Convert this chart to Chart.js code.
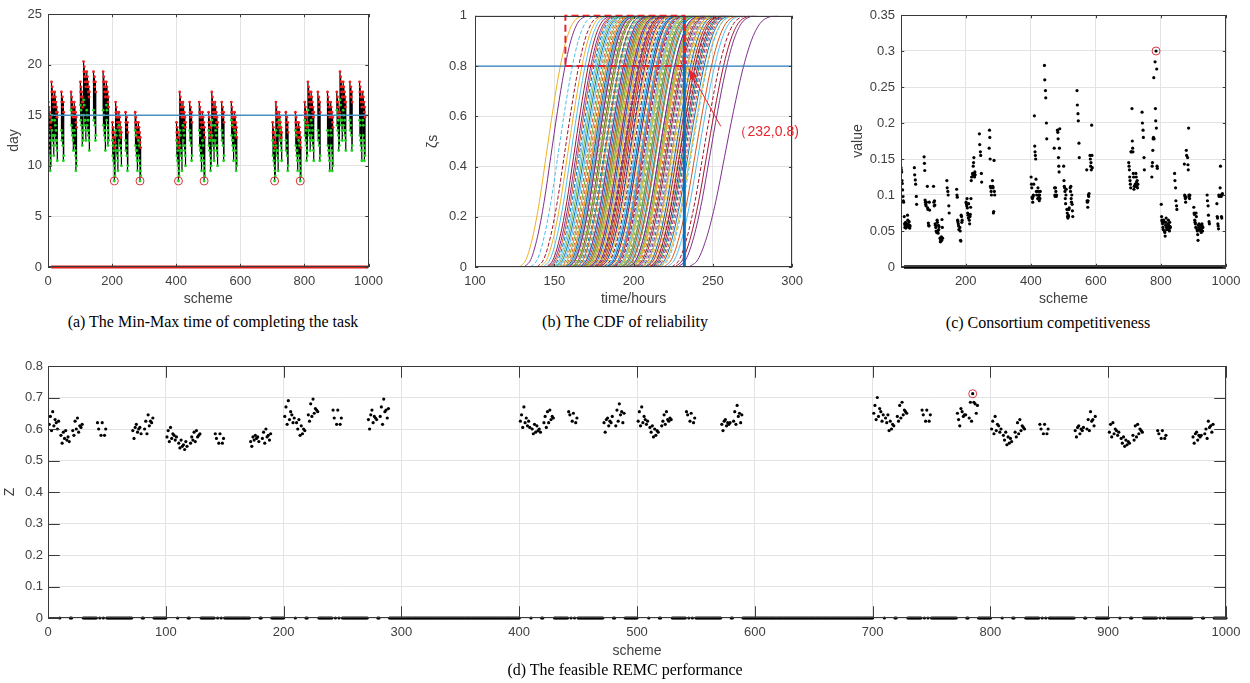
<!DOCTYPE html>
<html lang="en">
<head>
<meta charset="UTF-8" />
<title>REMC scheme evaluation</title>
<script src="https://cdn.jsdelivr.net/npm/chart.js"></script>
<style>
  body { margin: 0; width: 1250px; height: 683px; background: #fff; position: relative; overflow: hidden; }
  canvas { position: absolute; }
  .legenda { position: absolute; width: 400px; text-align: center; font: 16px "Liberation Serif", "Times New Roman", serif; line-height: 18px; color: #000; white-space: nowrap; }
</style>
</head>
<body>
  <canvas id="graficoA" width="390" height="310" style="left:0;top:0"></canvas>
  <canvas id="graficoB" width="400" height="310" style="left:410px;top:0"></canvas>
  <canvas id="graficoC" width="410" height="310" style="left:840px;top:0"></canvas>
  <canvas id="graficoD" width="1250" height="311" style="left:0;top:352px"></canvas>

  <div class="legenda" style="left:13px;top:313px">(a) The Min-Max time of completing the task</div>
  <div class="legenda" style="left:425px;top:313px">(b) The CDF of reliability</div>
  <div class="legenda" style="left:848px;top:314px">(c) Consortium competitiveness</div>
  <div class="legenda" style="left:425px;top:661px">(d) The feasible REMC performance</div>

<script>
  // feasible schemes: every block of 100 uses the same offsets (A 9, B 8, C 9, D 6, E 8, F 8)
  const blockStarts = [0, 100, 200, 400, 500, 700, 800, 900];
  const blockOffsets = [1, 2, 3, 4, 5, 6, 7, 8, 9,
    11, 12, 13, 14, 15, 16, 17, 18,
    21, 22, 23, 24, 25, 26, 27, 28, 29,
    42, 43, 45, 46, 48, 49,
    72, 73, 74, 75, 76, 77, 78, 79,
    82, 83, 84, 85, 86, 87, 88, 89];

  // (a) min / max completion time (days)
  const minDays = [
    13.5,12,13,11.5,12.5,11,9.5,10.5,10, 15,13.5,14.5,13,12.5,13,12,11, 14.5,13,14,12.5,13.5,12,12.5,11.5,10.5, 13.5,12.5,13,12,10.5,11, 15.5,14,15,13.5,13,13.5,12.5,11.5, 13.5,12,13,11.5,11,9.5,10.5,10,
    16,14.5,15.5,14,15,13.5,12,13,12.5, 16.5,15,16,14.5,14,14.5,13.5,12.5, 15.5,14,15,13.5,14.5,13,13.5,12.5,11.5, 15.5,14.5,15,14,12.5,13, 15.5,14,15,13.5,13,13.5,12.5,11.5, 16,14.5,15.5,14,13.5,12,13,12.5,
    12.5,11,12,10.5,11.5,10,8.5,9.5,9, 13.5,12,13,11.5,11,11.5,10.5,9.5, 14,12.5,13.5,12,13,11.5,12,11,10, 12.5,11.5,12,11,9.5,10, 13.5,12,13,11.5,11,11.5,10.5,9.5, 12.5,11,12,10.5,10,8.5,9.5,9,
    12.5,11,12,10.5,11.5,10,8.5,9.5,9, 13.5,12,13,11.5,11,11.5,10.5,9.5, 14,12.5,13.5,12,13,11.5,12,11,10, 13.5,12.5,13,12,10.5,11, 13.5,12,13,11.5,11,11.5,10.5,9.5, 12.5,11,12,10.5,10,8.5,9.5,9,
    13.5,12,13,11.5,12.5,11,9.5,10.5,10, 14.5,13,14,12.5,12,12.5,11.5,10.5, 14,12.5,13.5,12,13,11.5,12,11,10, 13.5,12.5,13,12,10.5,11, 14.5,13,14,12.5,12,12.5,11.5,10.5, 13.5,12,13,11.5,11,9.5,10.5,10,
    12.5,11,12,10.5,11.5,10,8.5,9.5,9, 13.5,12,13,11.5,11,11.5,10.5,9.5, 14.5,13,14,12.5,13.5,12,12.5,11.5,10.5, 12.5,11.5,12,11,9.5,10, 13.5,12,13,11.5,11,11.5,10.5,9.5, 12.5,11,12,10.5,10,8.5,9.5,9,
    14.5,13,14,12.5,13.5,12,10.5,11.5,11, 15.5,14,15,13.5,13,13.5,12.5,11.5, 14.5,13,14,12.5,13.5,12,12.5,11.5,10.5, 13.5,12.5,13,12,10.5,11, 13.5,12,13,11.5,11,11.5,10.5,9.5, 13.5,12,13,11.5,11,9.5,10.5,10,
    15.5,14,15,13.5,14.5,13,11.5,12.5,12, 16.5,15,16,14.5,14,14.5,13.5,12.5, 15.5,14,15,13.5,14.5,13,13.5,12.5,11.5, 14.5,13.5,14,13,11.5,12, 14.5,13,14,12.5,12,12.5,11.5,10.5, 14.5,13,14,12.5,12,10.5,11.5,11
  ];
  const maxDays = [
    16.3,15.3,15.8,14.8,15.3,14.3,14.8,13.8,14.3, 18.3,17.3,17.8,16.8,17.3,16.3,16.8,15.8, 17.3,16.3,16.8,15.8,16.3,15.3,15.8,14.8,15.3, 17.3,16.3,16.8,15.8,16.3,15.3, 17.3,16.3,16.8,15.8,16.3,15.3,15.8,14.8, 16.3,15.3,15.8,14.8,15.3,14.3,14.8,13.8,
    18.3,17.3,17.8,16.8,17.3,16.3,16.8,15.8,16.3, 20.3,19.3,19.8,18.8,19.3,18.3,18.8,17.8, 19.3,18.3,18.8,17.8,18.3,17.3,17.8,16.8,17.3, 19.3,18.3,18.8,17.8,18.3,17.3, 19.3,18.3,18.8,17.8,18.3,17.3,17.8,16.8, 18.3,17.3,17.8,16.8,17.3,16.3,16.8,15.8,
    14.3,13.3,13.8,12.8,13.3,12.3,12.8,11.8,12.3, 16.3,15.3,15.8,14.8,15.3,14.3,14.8,13.8, 15.3,14.3,14.8,13.8,14.3,13.3,13.8,12.8,13.3, 15.3,14.3,14.8,13.8,14.3,13.3, 15.3,14.3,14.8,13.8,14.3,13.3,13.8,12.8, 14.3,13.3,13.8,12.8,13.3,12.3,12.8,11.8,
    14.3,13.3,13.8,12.8,13.3,12.3,12.8,11.8,12.3, 17.3,16.3,16.8,15.8,16.3,15.3,15.8,14.8, 16.3,15.3,15.8,14.8,15.3,14.3,14.8,13.8,14.3, 16.3,15.3,15.8,14.8,15.3,14.3, 16.3,15.3,15.8,14.8,15.3,14.3,14.8,13.8, 15.3,14.3,14.8,13.8,14.3,13.3,13.8,12.8,
    15.3,14.3,14.8,13.8,14.3,13.3,13.8,12.8,13.3, 17.3,16.3,16.8,15.8,16.3,15.3,15.8,14.8, 16.3,15.3,15.8,14.8,15.3,14.3,14.8,13.8,14.3, 16.3,15.3,15.8,14.8,15.3,14.3, 16.3,15.3,15.8,14.8,15.3,14.3,14.8,13.8, 15.3,14.3,14.8,13.8,14.3,13.3,13.8,12.8,
    14.3,13.3,13.8,12.8,13.3,12.3,12.8,11.8,12.3, 16.3,15.3,15.8,14.8,15.3,14.3,14.8,13.8, 15.3,14.3,14.8,13.8,14.3,13.3,13.8,12.8,13.3, 15.3,14.3,14.8,13.8,14.3,13.3, 15.3,14.3,14.8,13.8,14.3,13.3,13.8,12.8, 14.3,13.3,13.8,12.8,13.3,12.3,12.8,11.8,
    16.3,15.3,15.8,14.8,15.3,14.3,14.8,13.8,14.3, 18.3,17.3,17.8,16.8,17.3,16.3,16.8,15.8, 17.3,16.3,16.8,15.8,16.3,15.3,15.8,14.8,15.3, 17.3,16.3,16.8,15.8,16.3,15.3, 17.3,16.3,16.8,15.8,16.3,15.3,15.8,14.8, 16.3,15.3,15.8,14.8,15.3,14.3,14.8,13.8,
    17.3,16.3,16.8,15.8,16.3,15.3,15.8,14.8,15.3, 19.3,18.3,18.8,17.8,18.3,17.3,17.8,16.8, 18.3,17.3,17.8,16.8,17.3,16.3,16.8,15.8,16.3, 18.3,17.3,17.8,16.8,17.3,16.3, 18.3,17.3,17.8,16.8,17.3,16.3,16.8,15.8, 17.3,16.3,16.8,15.8,16.3,15.3,15.8,14.8
  ];
  const deadlineDays = 15;

  // (c) consortium competitiveness
  const competitiveness = [
    0.138,0.135,0.132,0.12,0.116,0.107,0.098,0.092,0.09, 0.07,0.06,0.055,0.058,0.062,0.054,0.056,0.06, 0.072,0.065,0.06,0.057,0.055,0.063,0.058,0.054,0.057, 0.138,0.128,0.121,0.115,0.098,0.087, 0.153,0.144,0.134,0.093,0.09,0.087,0.085,0.09, 0.112,0.082,0.08,0.061,0.058,0.057,0.09,0.079,
    0.112,0.09,0.085,0.092,0.086,0.06,0.058,0.055,0.05, 0.048,0.065,0.062,0.05,0.047,0.058,0.052,0.056, 0.04,0.035,0.038,0.036,0.042,0.037,0.066,0.055,0.04, 0.12,0.11,0.105,0.1,0.085,0.075, 0.108,0.1,0.097,0.065,0.063,0.06,0.057,0.052, 0.055,0.05,0.037,0.036,0.072,0.07,0.062,0.065,
    0.09,0.088,0.085,0.095,0.082,0.075,0.072,0.068,0.088, 0.065,0.06,0.07,0.073,0.083,0.095,0.12,0.125, 0.13,0.128,0.14,0.145,0.152,0.13,0.125,0.132,0.128, 0.185,0.17,0.16,0.155,0.13,0.118, 0.165,0.19,0.18,0.15,0.112,0.11,0.105,0.1, 0.12,0.112,0.11,0.075,0.077,0.148,0.105,0.1,
    0.125,0.115,0.11,0.097,0.095,0.09,0.098,0.1,0.115, 0.21,0.168,0.16,0.155,0.15,0.122,0.105,0.1, 0.095,0.11,0.105,0.1,0.097,0.092,0.1,0.095,0.105, 0.28,0.26,0.245,0.235,0.2,0.178, 0.165,0.11,0.1,0.098,0.11,0.105,0.098,0.1, 0.19,0.187,0.178,0.152,0.14,0.132,0.165,0.192,
    0.14,0.12,0.112,0.11,0.105,0.095,0.088,0.1,0.108, 0.08,0.075,0.07,0.068,0.072,0.07,0.08,0.082, 0.11,0.105,0.112,0.095,0.09,0.1,0.087,0.078,0.07, 0.245,0.225,0.213,0.203,0.172,0.152, 0.135,0.092,0.09,0.083,0.092,0.1,0.098,0.102, 0.155,0.15,0.14,0.145,0.135,0.197,0.155,0.138,
    0.145,0.14,0.135,0.125,0.12,0.115,0.11,0.16,0.16, 0.22,0.175,0.165,0.16,0.13,0.125,0.108,0.112, 0.115,0.112,0.13,0.125,0.118,0.113,0.12,0.11,0.115, 0.215,0.2,0.19,0.18,0.152,0.135, 0.125,0.14,0.145,0.162,0.178,0.18,0.263,0.178, 0.285,0.22,0.203,0.30,0.193,0.275,0.14,0.137,
    0.087,0.07,0.065,0.063,0.06,0.055,0.052,0.065,0.062, 0.05,0.048,0.043,0.058,0.062,0.068,0.055,0.052, 0.06,0.055,0.065,0.058,0.052,0.05,0.062,0.056,0.055, 0.13,0.12,0.11,0.092,0.085,0.08, 0.143,0.1,0.098,0.095,0.09,0.097,0.162,0.155, 0.152,0.142,0.135,0.193,0.1,0.098,0.095,0.1,
    0.083,0.075,0.073,0.065,0.062,0.06,0.055,0.075,0.07, 0.052,0.05,0.045,0.037,0.058,0.055,0.06,0.052, 0.058,0.05,0.055,0.048,0.053,0.06,0.057,0.05,0.055, 0.1,0.092,0.085,0.072,0.063,0.06, 0.088,0.07,0.068,0.06,0.057,0.053,0.1,0.098, 0.11,0.14,0.1,0.098,0.07,0.068,0.1,0.102
  ];

  // (d) overall performance Z
  const zValues = [
    0.615,0.64,0.595,0.655,0.61,0.63,0.62,0.60,0.625, 0.58,0.555,0.59,0.57,0.595,0.565,0.575,0.56, 0.595,0.58,0.625,0.60,0.635,0.59,0.61,0.605,0.615, 0.62,0.60,0.58,0.62,0.58,0.60, 0.595,0.57,0.605,0.615,0.59,0.60,0.605,0.585, 0.60,0.625,0.585,0.645,0.61,0.625,0.62,0.635,
    0.575,0.595,0.56,0.605,0.57,0.585,0.58,0.565,0.575, 0.555,0.54,0.565,0.545,0.55,0.535,0.56,0.545, 0.555,0.575,0.565,0.59,0.56,0.595,0.575,0.58,0.585, 0.585,0.57,0.555,0.585,0.555,0.57, 0.56,0.545,0.575,0.565,0.58,0.57,0.575,0.56, 0.57,0.59,0.555,0.60,0.575,0.58,0.565,0.585,
    0.64,0.67,0.615,0.69,0.63,0.655,0.645,0.62,0.635, 0.62,0.60,0.63,0.58,0.61,0.585,0.60,0.595, 0.645,0.625,0.68,0.64,0.695,0.65,0.665,0.66,0.655, 0.66,0.635,0.615,0.66,0.615,0.635, 0.63,0.60,0.645,0.66,0.62,0.64,0.635,0.63, 0.64,0.67,0.615,0.695,0.655,0.66,0.635,0.665,
    0.625,0.645,0.605,0.67,0.62,0.635,0.61,0.625,0.605, 0.60,0.585,0.615,0.59,0.61,0.595,0.60,0.59, 0.62,0.64,0.605,0.655,0.62,0.66,0.63,0.64,0.635, 0.655,0.645,0.625,0.65,0.62,0.635, 0.62,0.59,0.63,0.635,0.61,0.625,0.62,0.64, 0.61,0.66,0.625,0.68,0.645,0.655,0.62,0.65,
    0.625,0.655,0.61,0.67,0.62,0.64,0.63,0.615,0.625, 0.605,0.59,0.61,0.575,0.60,0.58,0.595,0.59, 0.61,0.625,0.645,0.615,0.655,0.63,0.625,0.635,0.63, 0.655,0.645,0.625,0.65,0.62,0.635, 0.615,0.595,0.625,0.63,0.61,0.62,0.615,0.62, 0.625,0.655,0.615,0.675,0.64,0.65,0.62,0.645,
    0.65,0.675,0.63,0.70,0.64,0.665,0.655,0.625,0.645, 0.635,0.62,0.645,0.595,0.625,0.60,0.615,0.61, 0.64,0.625,0.675,0.635,0.685,0.645,0.66,0.655,0.65, 0.66,0.645,0.625,0.66,0.625,0.645, 0.65,0.63,0.61,0.665,0.655,0.64,0.645,0.645, 0.635,0.685,0.625,0.712,0.685,0.68,0.65,0.675,
    0.60,0.625,0.585,0.64,0.595,0.615,0.61,0.59,0.60, 0.58,0.565,0.59,0.55,0.575,0.555,0.57,0.56, 0.59,0.575,0.62,0.585,0.63,0.595,0.61,0.605,0.60, 0.615,0.60,0.585,0.615,0.585,0.60, 0.595,0.575,0.605,0.61,0.585,0.60,0.595,0.605, 0.60,0.63,0.595,0.655,0.625,0.63,0.61,0.64,
    0.59,0.615,0.575,0.62,0.585,0.60,0.595,0.58,0.59, 0.57,0.555,0.575,0.545,0.565,0.55,0.56,0.555, 0.58,0.565,0.61,0.575,0.615,0.585,0.60,0.595,0.59, 0.595,0.585,0.57,0.595,0.57,0.58, 0.575,0.555,0.585,0.59,0.565,0.58,0.575,0.58, 0.585,0.60,0.57,0.625,0.605,0.61,0.59,0.615
  ];

  // (b) reliability CDFs: start hour and rise length of each curve, plus the common S shape
  const curveStart = [128, 175, 196, 152, 210, 163, 187, 141, 201, 170,
    158, 224, 183, 147, 206, 166, 192, 135, 178, 215,
    155, 199, 172, 161, 189, 145, 212, 168, 180, 204,
    150, 194, 176, 157, 219, 185, 131, 198, 165, 208,
    173, 153, 190, 228, 160, 182, 202, 148, 195, 171,
    213, 162, 186, 139, 207, 177, 156, 197, 169, 217,
    184, 151, 200, 174, 159, 191, 143, 211, 179, 164,
    205, 188, 154, 221, 181, 167, 193, 209, 146, 176,
    203, 161, 186, 214, 170, 197, 157, 190, 226, 183,
    166, 199, 175, 212, 149, 188, 205, 172, 194, 235,
    168, 181, 159, 192, 203, 174, 186, 165, 198, 179,
    210, 156, 189, 171, 201, 184, 162, 195, 177, 207,
    169, 190, 182, 158, 199, 173, 216, 187, 164, 193];
  const curveSpan = [42, 46, 45, 44, 47, 45, 46, 43, 47, 45,
    44, 49, 46, 44, 47, 45, 46, 43, 45, 48,
    44, 46, 45, 44, 46, 43, 48, 45, 46, 47,
    44, 46, 45, 44, 49, 46, 42, 47, 45, 48,
    45, 44, 46, 50, 44, 46, 47, 44, 46, 45,
    48, 44, 46, 43, 47, 45, 44, 47, 45, 48,
    46, 44, 47, 45, 44, 46, 43, 48, 45, 44,
    47, 46, 44, 49, 46, 45, 46, 48, 44, 45,
    47, 44, 46, 48, 45, 47, 44, 46, 50, 46,
    45, 47, 45, 48, 44, 46, 47, 45, 46, 56,
    45, 46, 44, 46, 47, 45, 46, 45, 47, 46,
    48, 44, 46, 45, 47, 46, 44, 47, 45, 48,
    45, 46, 46, 44, 47, 45, 49, 46, 45, 46];
  const cdfFraction = [0, 0.1, 0.2, 0.3, 0.4, 0.5, 0.6, 0.7, 0.8, 0.9, 1];
  const cdfShape = [0, 0.03, 0.12, 0.26, 0.44, 0.62, 0.78, 0.90, 0.97, 0.995, 1];
  const reliabilityLevel = 0.8;
  const chosenHours = 232;
  const boxStartHours = 157;
  const noteText = '（232,0.8)';
  const noteArrowFrom = [255, 0.56];
  const noteArrowTo = [234.5, 0.79];
  const noteAt = [263, 0.535];

  // tick labels
  const schemeTicksA = [0, 200, 400, 600, 800, 1000];
  const dayTicks = [0, 5, 10, 15, 20, 25];
  const hourTicks = [100, 150, 200, 250, 300];
  const zetaTicks = [0, 0.2, 0.4, 0.6, 0.8, 1];
  const schemeTicksC = [200, 400, 600, 800, 1000];
  const valueTicks = [0, 0.05, 0.1, 0.15, 0.2, 0.25, 0.3, 0.35];
  const schemeTicksD = [0, 100, 200, 300, 400, 500, 600, 700, 800, 900, 1000];
  const zTicks = [0, 0.1, 0.2, 0.3, 0.4, 0.5, 0.6, 0.7, 0.8];

  const matlabCores = ['#EDB120', '#7E2F8E', '#77AC30', '#4DBEEE', '#A2142F', '#0072BD', '#D95319'];
  const SANS = '"Liberation Sans", Arial, sans-serif';

  const feasibleSchemes = blockStarts.flatMap(b => blockOffsets.map(o => b + o));
  const feasibleSet = new Set(feasibleSchemes);
  const infeasibleSchemes = [];
  for (let s = 1; s <= 1000; s++) {
    if (!feasibleSet.has(s)) infeasibleSchemes.push(s);
  }
  if (minDays.length !== feasibleSchemes.length || maxDays.length !== feasibleSchemes.length ||
      competitiveness.length !== feasibleSchemes.length || zValues.length !== feasibleSchemes.length) {
    console.error('tamanhos diferentes', feasibleSchemes.length, minDays.length, maxDays.length, competitiveness.length, zValues.length);
  }

  // MATLAB-like box with inward ticks on all four sides
  const boxTicks = {
    id: 'boxTicks',
    afterDatasetsDraw(chart) {
      const { ctx, chartArea: a, scales } = chart;
      const len = 0.01 * Math.max(a.width, a.height);
      ctx.save();
      ctx.strokeStyle = '#3a3a3a';
      ctx.lineWidth = 1;
      ctx.beginPath();
      scales.x.ticks.forEach(t => {
        const p = Math.round(scales.x.getPixelForValue(t.value)) + 0.5;
        ctx.moveTo(p, a.bottom); ctx.lineTo(p, a.bottom - len);
        ctx.moveTo(p, a.top); ctx.lineTo(p, a.top + len);
      });
      scales.y.ticks.forEach(t => {
        const p = Math.round(scales.y.getPixelForValue(t.value)) + 0.5;
        ctx.moveTo(a.left, p); ctx.lineTo(a.left + len, p);
        ctx.moveTo(a.right, p); ctx.lineTo(a.right - len, p);
      });
      ctx.stroke();
      ctx.strokeRect(Math.round(a.left) + 0.5, Math.round(a.top) + 0.5, Math.round(a.width) - 1, Math.round(a.height) - 1);
      ctx.restore();
    }
  };

  // arrow and label for the chosen point in (b)
  const notaPlugin = {
    id: 'nota',
    afterDatasetsDraw(chart) {
      const { ctx, scales: { x, y } } = chart;
      const x0 = x.getPixelForValue(noteArrowFrom[0]), y0 = y.getPixelForValue(noteArrowFrom[1]);
      const x1 = x.getPixelForValue(noteArrowTo[0]), y1 = y.getPixelForValue(noteArrowTo[1]);
      const ang = Math.atan2(y1 - y0, x1 - x0);
      ctx.save();
      ctx.strokeStyle = '#e8232b';
      ctx.fillStyle = '#e8232b';
      ctx.lineWidth = 1;
      ctx.beginPath();
      ctx.moveTo(x0, y0);
      ctx.lineTo(x1 - 8 * Math.cos(ang), y1 - 8 * Math.sin(ang));
      ctx.stroke();
      ctx.beginPath();
      ctx.moveTo(x1, y1);
      ctx.lineTo(x1 - 11 * Math.cos(ang) + 4 * Math.sin(ang), y1 - 11 * Math.sin(ang) - 4 * Math.cos(ang));
      ctx.lineTo(x1 - 11 * Math.cos(ang) - 4 * Math.sin(ang), y1 - 11 * Math.sin(ang) + 4 * Math.cos(ang));
      ctx.closePath();
      ctx.fill();
      ctx.font = '14px ' + SANS;
      ctx.textAlign = 'left';
      ctx.textBaseline = 'middle';
      ctx.fillText(noteText, x.getPixelForValue(noteAt[0]), y.getPixelForValue(noteAt[1]));
      ctx.restore();
    }
  };

  function eixo(cfg) {
    return {
      type: 'linear',
      min: cfg.min,
      max: cfg.max,
      afterBuildTicks: scale => { scale.ticks = cfg.ticks.map(v => ({ value: v })); },
      afterFit: scale => {
        if (scale.isHorizontal()) scale.height = cfg.size;
        else scale.width = cfg.size;
      },
      ticks: {
        color: '#404040',
        font: { family: SANS, size: 13 },
        padding: cfg.tickPad,
        maxRotation: 0,
        autoSkip: false,
        callback: v => String(+(+v).toFixed(3))
      },
      grid: { color: '#e3e3e3', drawTicks: false },
      border: { display: false },
      title: {
        display: true,
        text: cfg.title,
        color: '#404040',
        font: { family: SANS, size: 14 },
        padding: cfg.horizontal ? { top: 0, bottom: cfg.titlePad } : { top: cfg.titlePad, bottom: 0 }
      }
    };
  }

  function opcoes(padTop, padRight, x, y) {
    return {
      responsive: false,
      animation: false,
      events: [],
      layout: { autoPadding: false, padding: { top: padTop, right: padRight, left: 0, bottom: 0 } },
      plugins: { legend: { display: false }, tooltip: { enabled: false } },
      scales: { x: x, y: y }
    };
  }

  // ---------- (a)
  const barPoints = [];
  feasibleSchemes.forEach((s, i) => {
    barPoints.push({ x: s, y: minDays[i] }, { x: s, y: maxDays[i] }, { x: s, y: null });
  });
  const lowestDay = Math.min(...minDays);
  const circledA = feasibleSchemes.filter((s, i) => minDays[i] === lowestDay)
    .map(s => ({ x: s, y: lowestDay }));

  new Chart(document.getElementById('graficoA'), {
    type: 'scatter',
    data: {
      datasets: [
        { data: infeasibleSchemes.map(s => ({ x: s, y: 0 })), showLine: true, borderColor: '#e01b1b', borderWidth: 3, pointRadius: 0, clip: 4, order: 6 },
        { data: barPoints, showLine: true, spanGaps: false, borderColor: '#000', borderWidth: 1.2, pointRadius: 0, order: 5 },
        { data: feasibleSchemes.map((s, i) => ({ x: s, y: minDays[i] })), pointRadius: 1.4, pointBorderWidth: 0, backgroundColor: '#1fd21f', order: 4 },
        { data: feasibleSchemes.map((s, i) => ({ x: s, y: maxDays[i] })), pointRadius: 1.4, pointBorderWidth: 0, backgroundColor: '#ee1c1c', order: 3 },
        { data: [{ x: 0, y: deadlineDays }, { x: 1000, y: deadlineDays }], showLine: true, borderColor: '#4a8fc4', borderWidth: 1.5, pointRadius: 0, order: 2 },
        { data: circledA, pointRadius: 4, pointBorderWidth: 1, borderColor: '#d9343a', backgroundColor: 'rgba(0,0,0,0)', order: 1 }
      ]
    },
    options: opcoes(14, 18,
      eixo({ min: 0, max: 1000, ticks: schemeTicksA, size: 43, title: 'scheme', tickPad: 7, titlePad: 2, horizontal: true }),
      eixo({ min: 0, max: 25, ticks: dayTicks, size: 48, title: 'day', tickPad: 6, titlePad: 6 })),
    plugins: [boxTicks]
  });

  // ---------- (b)
  const curveSets = curveStart.map((s, i) => ({
    data: cdfFraction.map((f, k) => ({ x: s + f * curveSpan[i], y: cdfShape[k] })),
    showLine: true,
    cubicInterpolationMode: 'monotone',
    borderColor: matlabCores[i % matlabCores.length],
    borderWidth: 1,
    borderDash: i % 3 === 2 ? [4, 2] : [],
    pointRadius: 0,
    order: 10
  }));

  new Chart(document.getElementById('graficoB'), {
    type: 'scatter',
    data: {
      datasets: curveSets.concat([
        { data: [{ x: 100, y: reliabilityLevel }, { x: 300, y: reliabilityLevel }], showLine: true, borderColor: '#2d7dbf', borderWidth: 1.2, pointRadius: 0, order: 4 },
        { data: [{ x: chosenHours, y: 0 }, { x: chosenHours, y: 1 }], showLine: true, borderColor: '#0b6fc0', borderWidth: 3, pointRadius: 0, order: 3 },
        { data: [{ x: boxStartHours, y: reliabilityLevel }, { x: chosenHours, y: reliabilityLevel }, { x: chosenHours, y: 1 }, { x: boxStartHours, y: 1 }, { x: boxStartHours, y: reliabilityLevel }],
          showLine: true, borderColor: '#e3222c', borderWidth: 2, borderDash: [7, 4], pointRadius: 0, clip: 3, order: 1 }
      ])
    },
    options: opcoes(14, 13,
      eixo({ min: 100, max: 300, ticks: hourTicks, size: 43, title: 'time/hours', tickPad: 7, titlePad: 2, horizontal: true }),
      eixo({ min: 0, max: 1, ticks: zetaTicks, size: 65, title: 'ζs', tickPad: 8, titlePad: 15 })),
    plugins: [boxTicks, notaPlugin]
  });

  // ---------- (c)
  const bestComp = Math.max(...competitiveness);
  const circledC = feasibleSchemes.filter((s, i) => competitiveness[i] === bestComp)
    .map(s => ({ x: s, y: bestComp }));

  new Chart(document.getElementById('graficoC'), {
    type: 'scatter',
    data: {
      datasets: [
        { data: infeasibleSchemes.map(s => ({ x: s, y: 0 })), showLine: true, borderColor: '#000', borderWidth: 3.5, pointRadius: 0, clip: 4, order: 3 },
        { data: feasibleSchemes.map((s, i) => ({ x: s, y: competitiveness[i] })), pointRadius: 1.6, pointBorderWidth: 0, backgroundColor: '#000', order: 2 },
        { data: circledC, pointRadius: 4, pointBorderWidth: 1, borderColor: '#d9343a', backgroundColor: 'rgba(0,0,0,0)', order: 1 }
      ]
    },
    options: opcoes(15, 24,
      eixo({ min: 1, max: 1000, ticks: schemeTicksC, size: 43, title: 'scheme', tickPad: 7, titlePad: 2, horizontal: true }),
      eixo({ min: 0, max: 0.35, ticks: valueTicks, size: 61, title: 'value', tickPad: 6, titlePad: 10 })),
    plugins: [boxTicks]
  });

  // ---------- (d)
  const bestZ = Math.max(...zValues);
  const circledD = feasibleSchemes.filter((s, i) => zValues[i] === bestZ)
    .map(s => ({ x: s, y: bestZ }));

  new Chart(document.getElementById('graficoD'), {
    type: 'scatter',
    data: {
      datasets: [
        { data: infeasibleSchemes.map(s => ({ x: s, y: 0 })), pointRadius: 1.6, pointBorderWidth: 0, backgroundColor: '#000', clip: 4, order: 3 },
        { data: feasibleSchemes.map((s, i) => ({ x: s, y: zValues[i] })), pointRadius: 1.6, pointBorderWidth: 0, backgroundColor: '#000', order: 2 },
        { data: circledD, pointRadius: 4, pointBorderWidth: 1, borderColor: '#d9343a', backgroundColor: 'rgba(0,0,0,0)', order: 1 }
      ]
    },
    options: opcoes(14, 24,
      eixo({ min: 0, max: 1000, ticks: schemeTicksD, size: 45, title: 'scheme', tickPad: 7, titlePad: 3, horizontal: true }),
      eixo({ min: 0, max: 0.8, ticks: zTicks, size: 48, title: 'Z', tickPad: 5, titlePad: 2 })),
    plugins: [boxTicks]
  });
</script>
</body>
</html>
